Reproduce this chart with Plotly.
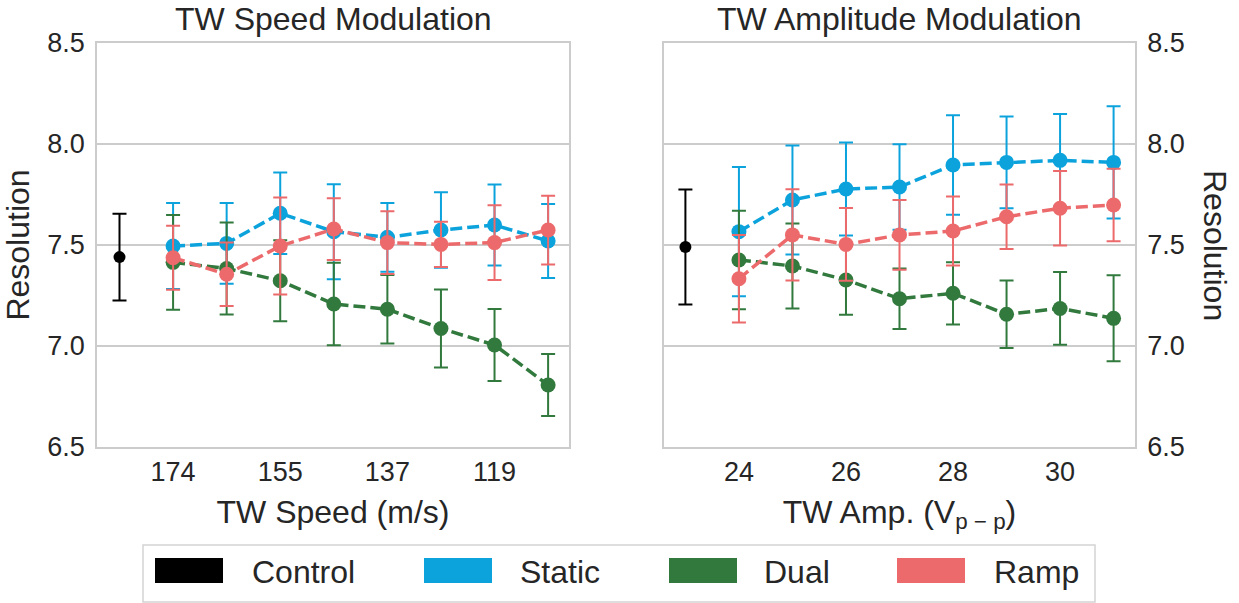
import plotly.graph_objects as go

# ---------------- data ----------------
speed_labels = ["174", "155", "137", "119"]          # shown speed ticks (every other level)
speed_levels = [0, 1, 2, 3, 4, 5, 6, 7]               # speed level index
amp_levels = [24, 25, 26, 27, 28, 29, 30, 31]         # TW amplitude (Vp-p)

control_speed_mean = 7.44
control_speed_err = 0.215
control_amp_mean = 7.49
control_amp_err = 0.285

speed_static = [7.495, 7.508, 7.657, 7.566, 7.538, 7.574, 7.599, 7.520]
speed_static_err = [0.213, 0.200, 0.202, 0.235, 0.170, 0.187, 0.200, 0.183]
speed_dual = [7.414, 7.384, 7.323, 7.208, 7.182, 7.087, 7.005, 6.807]
speed_dual_err = [0.235, 0.228, 0.200, 0.204, 0.170, 0.193, 0.178, 0.153]
speed_ramp = [7.437, 7.355, 7.495, 7.579, 7.512, 7.503, 7.512, 7.574]
speed_ramp_err = [0.158, 0.157, 0.240, 0.153, 0.155, 0.112, 0.185, 0.170]

amp_static = [7.566, 7.723, 7.777, 7.787, 7.896, 7.909, 7.919, 7.909]
amp_static_err = [0.320, 0.270, 0.230, 0.212, 0.246, 0.227, 0.229, 0.278]
amp_dual = [7.426, 7.396, 7.327, 7.234, 7.261, 7.157, 7.186, 7.137]
amp_dual_err = [0.244, 0.210, 0.172, 0.150, 0.154, 0.167, 0.180, 0.213]
amp_ramp = [7.333, 7.550, 7.503, 7.550, 7.569, 7.640, 7.682, 7.698]
amp_ramp_err = [0.217, 0.226, 0.180, 0.173, 0.171, 0.160, 0.184, 0.180]

legend_names = ["Control", "Static", "Dual", "Ramp"]

# ---------------- style ----------------
C_CONTROL = "#000000"
C_STATIC = "#0ca3dd"
C_DUAL = "#31793d"
C_RAMP = "#ec6a6b"
TXT = "#262626"
GRID = "#cccccc"
FONT = "Liberation Sans, Arial, sans-serif"

W, H = 1239, 603
ML, MR, MT, MB = 97, 104, 43, 156
PW = W - ML - MR
PH = H - MT - MB


def px_x(px):
    return (px - ML) / PW


def px_y(py):
    return (H - MB - py) / PH


fig = go.Figure()


def add_series(x, y, err, color, xa, ya, dashed=True, msize=15):
    fig.add_trace(go.Scatter(
        x=x, y=y, xaxis=xa, yaxis=ya,
        mode="lines+markers" if dashed else "markers",
        line=dict(color=color, width=3.5, dash="12px,5px"),
        marker=dict(color=color, size=msize),
        error_y=dict(type="data", array=err, visible=True, color=color,
                     thickness=2, width=7),
        showlegend=False,
    ))


# left panel (speed)
add_series([-1], [control_speed_mean], [control_speed_err], C_CONTROL, "x", "y", dashed=False, msize=12)
add_series(speed_levels, speed_static, speed_static_err, C_STATIC, "x", "y")
add_series(speed_levels, speed_dual, speed_dual_err, C_DUAL, "x", "y")
add_series(speed_levels, speed_ramp, speed_ramp_err, C_RAMP, "x", "y")

# right panel (amplitude)
add_series([amp_levels[0] - 1], [control_amp_mean], [control_amp_err], C_CONTROL, "x2", "y2", dashed=False, msize=12)
add_series(amp_levels, amp_static, amp_static_err, C_STATIC, "x2", "y2")
add_series(amp_levels, amp_dual, amp_dual_err, C_DUAL, "x2", "y2")
add_series(amp_levels, amp_ramp, amp_ramp_err, C_RAMP, "x2", "y2")

d1 = [0, px_x(569)]
d2 = [px_x(664), 1]

axis_common = dict(showline=True, linecolor=GRID, linewidth=1.5, mirror=True,
                   zeroline=False, ticks="", tickfont=dict(size=27, color=TXT, family=FONT))

fig.update_layout(
    width=W, height=H,
    margin=dict(l=ML, r=MR, t=MT, b=MB, pad=0),
    paper_bgcolor="white", plot_bgcolor="white",
    font=dict(family=FONT, color=TXT),
    showlegend=False,
    xaxis=dict(domain=d1, range=[-1.42, 7.39], tickvals=[0, 2, 4, 6], ticktext=speed_labels,
               showgrid=False, anchor="y",
               title=dict(text="TW Speed (m/s)", font=dict(size=32, color=TXT), standoff=14),
               **axis_common),
    yaxis=dict(domain=[0, 1], range=[6.5, 8.5], dtick=0.5, tickformat=".1f",
               showgrid=True, gridcolor=GRID, gridwidth=1.5, anchor="x", ticklabelstandoff=5,
               title=dict(text="Resolution", font=dict(size=32, color=TXT), standoff=8),
               **axis_common),
    xaxis2=dict(domain=d2, range=[22.6, 31.4], tickvals=[24, 26, 28, 30],
                showgrid=False, anchor="y2",
                title=dict(text="TW Amp. (V<sub>p − p</sub>)", font=dict(size=32, color=TXT), standoff=14),
                **axis_common),
    yaxis2=dict(domain=[0, 1], range=[6.5, 8.5], dtick=0.5, tickformat=".1f",
                showgrid=True, gridcolor=GRID, gridwidth=1.5, anchor="x2", side="right",
                ticklabelstandoff=5,
                **axis_common),
)

annotations = [
    dict(text="TW Speed Modulation", x=(d1[0] + d1[1]) / 2, y=px_y(19), xref="paper", yref="paper",
         showarrow=False, font=dict(size=32, color=TXT), xanchor="center", yanchor="middle"),
    dict(text="TW Amplitude Modulation", x=(d2[0] + d2[1]) / 2, y=px_y(19), xref="paper", yref="paper",
         showarrow=False, font=dict(size=32, color=TXT), xanchor="center", yanchor="middle"),
    dict(text="Resolution", x=px_x(1215), y=0.5, xref="paper", yref="paper", textangle=90,
         showarrow=False, font=dict(size=32, color=TXT), xanchor="center", yanchor="middle"),
]

# legend (drawn manually: wide colour patches)
shapes = []
x0, x1, y0, y1 = px_x(143), px_x(1095), px_y(602), px_y(545)
shapes.append(dict(type="rect", xref="paper", yref="paper", x0=x0, x1=x1, y0=y0, y1=y1,
                   line=dict(color="#d4d4d4", width=1.5), fillcolor="white", layer="below"))
patch_left = [155, 424, 669, 897]
text_left = [252, 520, 764, 994]
colors = [C_CONTROL, C_STATIC, C_DUAL, C_RAMP]
for name, pl, tl, c in zip(legend_names, patch_left, text_left, colors):
    shapes.append(dict(type="rect", xref="paper", yref="paper",
                       x0=px_x(pl), x1=px_x(pl + 68), y0=px_y(583), y1=px_y(558),
                       line=dict(width=0), fillcolor=c))
    annotations.append(dict(text=name, x=px_x(tl - 2), y=px_y(572), xref="paper", yref="paper",
                            showarrow=False, xanchor="left", yanchor="middle",
                            font=dict(size=32, color=TXT)))

fig.update_layout(annotations=annotations, shapes=shapes)

fig.write_html("out.html")
